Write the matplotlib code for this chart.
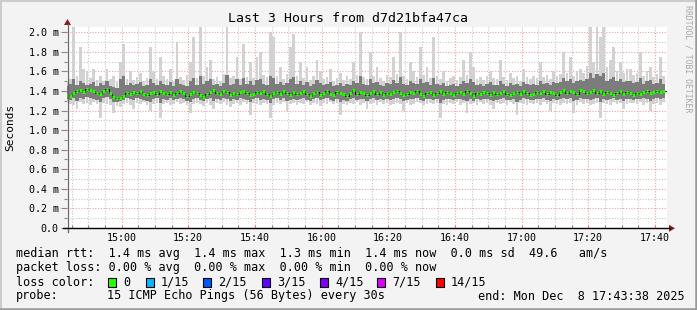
import numpy as np
import matplotlib
matplotlib.use("Agg")
import matplotlib.pyplot as plt
import matplotlib.dates as mdates
from matplotlib.patches import Rectangle, Polygon
from matplotlib.lines import Line2D
from matplotlib.ticker import MultipleLocator, FuncFormatter

W, H = 697, 310
FONT = "DejaVu Sans Mono"

# one sample per minute, last 3 hours (values in ms)
start = np.datetime64("2025-12-08T14:43:38")
end = np.datetime64("2025-12-08T17:43:38")
times = start + np.arange(180) * np.timedelta64(60, "s")

median_ms = [
    1.36, 1.35, 1.38, 1.40, 1.41, 1.39, 1.42, 1.41, 1.40, 1.38,
    1.37, 1.40, 1.42, 1.38, 1.34, 1.33, 1.33, 1.35, 1.38, 1.37,
    1.39, 1.38, 1.40, 1.37, 1.36, 1.38, 1.39, 1.37, 1.40, 1.38,
    1.37, 1.39, 1.36, 1.38, 1.40, 1.38, 1.35, 1.37, 1.39, 1.38,
    1.36, 1.34, 1.37, 1.39, 1.41, 1.38, 1.37, 1.40, 1.39, 1.36,
    1.38, 1.37, 1.39, 1.40, 1.38, 1.36, 1.37, 1.39, 1.38, 1.40,
    1.37, 1.35, 1.38, 1.39, 1.37, 1.40, 1.38, 1.36, 1.39, 1.37,
    1.38, 1.40, 1.37, 1.35, 1.38, 1.39, 1.36, 1.38, 1.40, 1.37,
    1.36, 1.39, 1.38, 1.37, 1.35, 1.38, 1.41, 1.37, 1.39, 1.38,
    1.36, 1.38, 1.40, 1.37, 1.39, 1.36, 1.38, 1.37, 1.39, 1.40,
    1.38, 1.36, 1.37, 1.39, 1.38, 1.40, 1.37, 1.35, 1.38, 1.39,
    1.36, 1.38, 1.40, 1.37, 1.39, 1.38, 1.36, 1.38, 1.39, 1.37,
    1.40, 1.38, 1.35, 1.38, 1.37, 1.39, 1.38, 1.36, 1.39, 1.37,
    1.38, 1.40, 1.37, 1.36, 1.38, 1.39, 1.37, 1.40, 1.38, 1.36,
    1.37, 1.39, 1.38, 1.40, 1.37, 1.39, 1.38, 1.36, 1.39, 1.41,
    1.38, 1.40, 1.39, 1.37, 1.41, 1.40, 1.38, 1.39, 1.41, 1.38,
    1.40, 1.37, 1.39, 1.38, 1.36, 1.38, 1.40, 1.37, 1.39, 1.38,
    1.36, 1.38, 1.37, 1.39, 1.40, 1.38, 1.39, 1.40, 1.39, 1.40,
]

# slowest / fastest ping of each step (outer smoke)
max_ms = [
    1.50, 1.52, 2.05, 1.55, 1.85, 1.62, 1.60, 1.53, 1.62, 1.51,
    1.55, 1.50, 1.62, 1.52, 1.55, 1.49, 1.70, 1.88, 1.52, 1.60,
    1.51, 1.54, 1.58, 1.50, 1.53, 1.85, 1.60, 1.52, 1.75, 1.55,
    1.52, 1.62, 1.50, 1.90, 1.54, 1.51, 1.56, 1.70, 1.95, 1.53,
    2.05, 1.55, 1.65, 1.72, 1.52, 1.54, 1.50, 1.57, 2.05, 1.53,
    1.55, 1.75, 1.52, 1.88, 1.54, 1.70, 1.53, 1.75, 1.80, 1.56,
    1.54, 2.00, 1.95, 1.55, 1.65, 1.52, 1.57, 1.85, 1.98, 1.55,
    1.70, 1.53, 1.65, 1.51, 1.55, 1.72, 1.60, 1.52, 1.54, 1.62,
    1.50, 1.53, 1.58, 1.51, 1.55, 1.52, 1.70, 1.56, 2.00, 1.54,
    1.52, 1.80, 1.55, 1.65, 1.53, 1.50, 1.56, 1.54, 1.75, 1.57,
    2.00, 1.55, 1.52, 1.70, 1.60, 1.54, 1.85, 1.56, 1.65, 1.53,
    1.95, 1.55, 1.52, 1.60, 1.50, 1.53, 1.55, 1.51, 1.54, 1.72,
    1.56, 1.80, 1.65, 1.52, 1.54, 1.51, 1.55, 1.60, 1.53, 1.52,
    1.72, 1.54, 1.51, 1.58, 1.53, 1.55, 1.50, 1.62, 1.54, 1.52,
    1.55, 1.53, 1.70, 1.54, 1.56, 1.52, 1.60, 1.55, 1.57, 1.80,
    1.58, 1.75, 1.55, 1.60, 1.62, 1.58, 1.66, 2.05, 1.70, 2.05,
    1.95, 2.05, 1.65, 1.72, 1.85, 1.60, 1.70, 1.58, 1.62, 1.62,
    1.56, 1.58, 1.80, 1.55, 1.60, 1.65, 1.54, 1.57, 1.75, 1.55,
]
min_ms = [
    1.28, 1.27, 1.26, 1.22, 1.29, 1.27, 1.28, 1.26, 1.29, 1.27,
    1.12, 1.28, 1.27, 1.26, 1.18, 1.25, 1.24, 1.27, 1.28, 1.26,
    1.22, 1.28, 1.27, 1.29, 1.26, 1.20, 1.27, 1.28, 1.12, 1.27,
    1.28, 1.26, 1.27, 1.29, 1.27, 1.28, 1.26, 1.18, 1.27, 1.28,
    1.27, 1.25, 1.28, 1.26, 1.22, 1.28, 1.27, 1.29, 1.26, 1.24,
    1.27, 1.28, 1.26, 1.29, 1.27, 1.15, 1.28, 1.27, 1.26, 1.28,
    1.27, 1.12, 1.26, 1.28, 1.27, 1.29, 1.20, 1.27, 1.28, 1.26,
    1.28, 1.27, 1.29, 1.26, 1.28, 1.27, 1.25, 1.28, 1.27, 1.29,
    1.27, 1.28, 1.15, 1.27, 1.26, 1.28, 1.27, 1.29, 1.26, 1.28,
    1.22, 1.27, 1.28, 1.26, 1.29, 1.27, 1.28, 1.26, 1.27, 1.28,
    1.27, 1.20, 1.28, 1.26, 1.27, 1.29, 1.28, 1.26, 1.27, 1.28,
    1.27, 1.28, 1.12, 1.27, 1.26, 1.28, 1.27, 1.29, 1.26, 1.28,
    1.18, 1.27, 1.28, 1.26, 1.29, 1.27, 1.28, 1.26, 1.22, 1.28,
    1.27, 1.28, 1.26, 1.29, 1.27, 1.15, 1.28, 1.27, 1.26, 1.28,
    1.27, 1.28, 1.26, 1.29, 1.27, 1.20, 1.28, 1.27, 1.26, 1.28,
    1.27, 1.28, 1.18, 1.26, 1.29, 1.27, 1.28, 1.26, 1.27, 1.28,
    1.12, 1.28, 1.27, 1.26, 1.29, 1.27, 1.28, 1.22, 1.27, 1.28,
    1.28, 1.27, 1.29, 1.26, 1.28, 1.20, 1.27, 1.28, 1.26, 1.29,
]

# bulk of the pings (inner smoke)
upper_ms = [
    1.45, 1.47, 1.52, 1.46, 1.50, 1.48, 1.46, 1.47, 1.49, 1.45,
    1.48, 1.46, 1.50, 1.45, 1.44, 1.43, 1.52, 1.55, 1.46, 1.48,
    1.46, 1.47, 1.49, 1.45, 1.46, 1.52, 1.48, 1.46, 1.50, 1.47,
    1.46, 1.49, 1.45, 1.52, 1.47, 1.46, 1.45, 1.50, 1.53, 1.46,
    1.55, 1.47, 1.50, 1.52, 1.46, 1.47, 1.45, 1.48, 1.56, 1.46,
    1.47, 1.52, 1.46, 1.53, 1.47, 1.50, 1.46, 1.51, 1.52, 1.47,
    1.46, 1.55, 1.53, 1.47, 1.49, 1.46, 1.48, 1.52, 1.54, 1.47,
    1.50, 1.46, 1.49, 1.45, 1.47, 1.51, 1.48, 1.46, 1.47, 1.49,
    1.45, 1.46, 1.48, 1.45, 1.47, 1.46, 1.50, 1.48, 1.55, 1.47,
    1.46, 1.52, 1.48, 1.49, 1.46, 1.45, 1.48, 1.47, 1.51, 1.48,
    1.54, 1.47, 1.46, 1.50, 1.48, 1.47, 1.52, 1.48, 1.49, 1.46,
    1.53, 1.47, 1.46, 1.48, 1.45, 1.46, 1.47, 1.45, 1.47, 1.50,
    1.48, 1.52, 1.49, 1.46, 1.47, 1.45, 1.47, 1.49, 1.46, 1.46,
    1.50, 1.47, 1.45, 1.48, 1.46, 1.47, 1.45, 1.49, 1.47, 1.46,
    1.47, 1.46, 1.50, 1.47, 1.48, 1.46, 1.49, 1.48, 1.49, 1.53,
    1.50, 1.52, 1.48, 1.50, 1.51, 1.50, 1.52, 1.58, 1.53, 1.57,
    1.55, 1.58, 1.50, 1.52, 1.54, 1.50, 1.52, 1.49, 1.50, 1.50,
    1.48, 1.49, 1.53, 1.47, 1.50, 1.51, 1.47, 1.48, 1.52, 1.47,
]
lower_ms = [
    1.32, 1.31, 1.33, 1.30, 1.33, 1.32, 1.34, 1.33, 1.32, 1.31,
    1.29, 1.33, 1.34, 1.32, 1.29, 1.29, 1.30, 1.31, 1.33, 1.32,
    1.31, 1.33, 1.32, 1.31, 1.30, 1.29, 1.32, 1.33, 1.28, 1.32,
    1.31, 1.33, 1.31, 1.32, 1.33, 1.32, 1.30, 1.29, 1.32, 1.33,
    1.31, 1.30, 1.32, 1.33, 1.30, 1.32, 1.31, 1.33, 1.32, 1.30,
    1.32, 1.31, 1.33, 1.32, 1.31, 1.29, 1.32, 1.33, 1.31, 1.32,
    1.31, 1.28, 1.32, 1.33, 1.31, 1.33, 1.30, 1.31, 1.32, 1.31,
    1.32, 1.33, 1.31, 1.30, 1.32, 1.33, 1.31, 1.32, 1.33, 1.31,
    1.30, 1.32, 1.29, 1.31, 1.30, 1.32, 1.33, 1.31, 1.32, 1.32,
    1.30, 1.32, 1.33, 1.31, 1.32, 1.31, 1.32, 1.31, 1.32, 1.33,
    1.32, 1.30, 1.31, 1.32, 1.32, 1.33, 1.31, 1.30, 1.32, 1.32,
    1.31, 1.32, 1.28, 1.31, 1.32, 1.32, 1.31, 1.32, 1.32, 1.31,
    1.30, 1.32, 1.30, 1.32, 1.31, 1.32, 1.32, 1.31, 1.30, 1.31,
    1.32, 1.33, 1.31, 1.31, 1.32, 1.29, 1.31, 1.33, 1.32, 1.31,
    1.31, 1.32, 1.32, 1.33, 1.31, 1.30, 1.32, 1.31, 1.32, 1.33,
    1.32, 1.33, 1.30, 1.31, 1.33, 1.32, 1.32, 1.31, 1.32, 1.33,
    1.29, 1.32, 1.31, 1.32, 1.33, 1.31, 1.32, 1.30, 1.32, 1.32,
    1.31, 1.32, 1.32, 1.33, 1.32, 1.30, 1.32, 1.33, 1.32, 1.33,
]

stats_line = "median rtt:  1.4 ms avg  1.4 ms max  1.3 ms min  1.4 ms now  0.0 ms sd  49.6   am/s"
loss_line = "packet loss: 0.00 % avg  0.00 % max  0.00 % min  0.00 % now"
loss_labels = ["0", "1/15", "2/15", "3/15", "4/15", "7/15", "14/15"]
loss_colors = ["#26ff00", "#00b8ff", "#0059ff", "#5e00ff", "#7e00ff", "#dd00ff", "#ff0000"]
probe_text = "15 ICMP Echo Pings (56 Bytes) every 30s"
end_text = "end: Mon Dec  8 17:43:38 2025"


def fx(x):
    return x / W


def fy(y):
    return 1 - y / H


fig = plt.figure(figsize=(W / 100, H / 100), dpi=100, facecolor="#f3f3f3")
ax = fig.add_axes([fx(67), fy(228), 600 / W, 201 / H])
ax.set_facecolor("white")

step = 1 / 1440  # one minute in days
lo, hi = np.array(min_ms), np.array(max_ms)
lo2, hi2 = np.array(lower_ms), np.array(upper_ms)
ax.bar(times, hi - lo, bottom=lo, width=0.85 * step, align="center", color="#d2d2d2", lw=0, zorder=2)
ax.bar(times, hi2 - lo2, bottom=lo2, width=step, align="center", color="#7c7c7c", lw=0, zorder=3)

med = np.array(median_ms)
half = np.timedelta64(30, "s")
ax.step(np.append(times - half, end), np.append(med, med[-1]), where="post",
        color="#111111", lw=0.7, zorder=4)
ax.hlines(med, times - half + np.timedelta64(6, "s"), times + half - np.timedelta64(6, "s"),
          color="#26ff00", lw=2.2, zorder=5)

ax.set_xlim(start, end)
ax.set_ylim(0, 2.054)

ax.xaxis.set_major_locator(mdates.MinuteLocator(byminute=[0, 20, 40]))
ax.xaxis.set_minor_locator(mdates.MinuteLocator(byminute=range(0, 60, 5)))
ax.xaxis.set_major_formatter(mdates.DateFormatter("%H:%M"))
ax.yaxis.set_major_locator(MultipleLocator(0.2))
ax.yaxis.set_minor_locator(MultipleLocator(0.1))
ax.yaxis.set_major_formatter(FuncFormatter(lambda v, p: "0.0" if abs(v) < 1e-9 else f"{v:.1f} m"))

ax.set_axisbelow(True)
ax.grid(which="major", color="#f0a0a0", ls=(0, (1, 1.5)), lw=0.8)
ax.grid(which="minor", color="#c8c8c8", ls=(0, (1, 1.5)), lw=0.8)

for s in ax.spines.values():
    s.set_visible(False)
ax.tick_params(which="both", colors="#888888", labelcolor="black", labelsize=7.2, width=0.8)
ax.tick_params(axis="y", which="major", length=4, pad=2)
ax.tick_params(axis="y", which="minor", length=2)
ax.tick_params(axis="x", which="both", direction="in", length=2.5, pad=3.5)
ax.tick_params(axis="x", which="major", colors="#e08080", labelcolor="black")
for lab in ax.get_xticklabels() + ax.get_yticklabels():
    lab.set_family(FONT)

# axis lines and arrows
fig.add_artist(Line2D([fx(67.5), fx(67.5)], [fy(232), fy(24)], color="#666666", lw=0.9))
fig.add_artist(Line2D([fx(63), fx(670)], [fy(228.3), fy(228.3)], color="black", lw=1.0))
fig.add_artist(Polygon([[fx(64), fy(25)], [fx(71), fy(25)], [fx(67.5), fy(19)]],
                       closed=True, color="#8b1a1a", lw=0))
fig.add_artist(Polygon([[fx(669), fy(224.8)], [fx(669), fy(231.8)], [fx(675), fy(228.3)]],
                       closed=True, color="#8b1a1a", lw=0))

fig.text(fx(348), fy(19), "Last 3 Hours from d7d21bfa47ca", family=FONT, fontsize=9.5,
         ha="center", va="center")
fig.text(fx(10), fy(127), "Seconds", family=FONT, fontsize=8, rotation=90,
         ha="center", va="center")
fig.text(fx(688), fy(5), "RRDTOOL / TOBI OETIKER", family=FONT, fontsize=5.9,
         rotation=270, ha="center", va="top", color="#a8a8a8")

lfs = 8.5
fig.text(fx(16), fy(254), stats_line, family=FONT, fontsize=lfs, va="center")
fig.text(fx(16), fy(268), loss_line, family=FONT, fontsize=lfs, va="center")
fig.text(fx(16), fy(282), "loss color:", family=FONT, fontsize=lfs, va="center")
box_x = [108, 146, 203, 262, 320, 377, 436]
for bx, lab, col in zip(box_x, loss_labels, loss_colors):
    fig.add_artist(Rectangle((fx(bx), fy(287)), 8 / W, 9 / H, facecolor=col,
                             edgecolor="black", lw=0.8))
    fig.text(fx(bx + 15), fy(282), lab, family=FONT, fontsize=lfs, va="center")
fig.text(fx(16), fy(296), "probe:", family=FONT, fontsize=lfs, va="center")
fig.text(fx(107), fy(296), probe_text, family=FONT, fontsize=lfs, va="center")
fig.text(fx(478), fy(296), end_text, family=FONT, fontsize=lfs, va="center")

# bevelled frame
fig.add_artist(Line2D([0, 1], [fy(0.5), fy(0.5)], color="#cccccc", lw=1.5))
fig.add_artist(Line2D([fx(0.5), fx(0.5)], [0, 1], color="#cccccc", lw=1.5))
fig.add_artist(Line2D([0, 1], [fy(309), fy(309)], color="#999999", lw=1.8))
fig.add_artist(Line2D([fx(696), fx(696)], [0, 1], color="#999999", lw=1.8))

fig.savefig("out.png", dpi=100, facecolor=fig.get_facecolor())
